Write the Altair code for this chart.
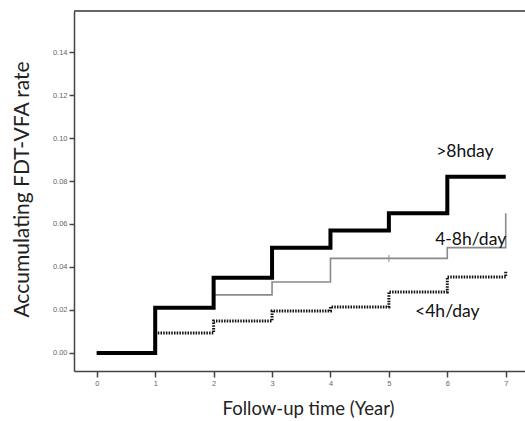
import altair as alt
import pandas as pd

years = [0, 1, 2, 3, 4, 5, 6, 7]
over8 = [0.0, 0.021, 0.035, 0.049, 0.057, 0.065, 0.082, 0.082]
mid48 = [0.0, 0.021, 0.027, 0.033, 0.044, 0.044, 0.049, 0.065]
under4 = [0.0, 0.0093, 0.0149, 0.0195, 0.0214, 0.0284, 0.0353, 0.038]

censor_x = [5]
censor_y = [0.044]

label_text = [">8hday", "4-8h/day", "<4h/day"]
label_x = [6.3, 6.4, 6.0]
label_y = [0.0935, 0.0526, 0.019]

y_ticks = [0.0, 0.02, 0.04, 0.06, 0.08, 0.10, 0.12, 0.14]

df = pd.DataFrame({
    "year": years * 3,
    "rate": over8 + mid48 + under4,
    "group": [">8h"] * 8 + ["4-8h"] * 8 + ["<4h"] * 8,
})
labels = pd.DataFrame({"t": label_text, "x": label_x, "y": label_y})
cens = pd.DataFrame({"year": censor_x, "rate": censor_y})

W, H = 451, 360
xs = alt.Scale(domain=[-0.39, 7.33], nice=False, zero=False)
ys = alt.Scale(domain=[-0.0084, 0.1591], nice=False, zero=False)

xenc = alt.X("year:Q", scale=xs, axis=alt.Axis(
    values=years, format="d", title="Follow-up time (Year)", grid=False,
    domainColor="#444", domainWidth=1.5, tickColor="#444", tickWidth=1.5, tickSize=6,
    labelFontSize=7.5, labelColor="#666", labelFont="Liberation Sans", labelPadding=2,
    titleFont="Lato", titleFontSize=18.5, titleFontWeight="normal", titleColor="#222",
    titlePadding=13, titleX=234))
yenc = alt.Y("rate:Q", scale=ys, axis=alt.Axis(
    values=y_ticks, format=".2f", title="Accumulating FDT-VFA rate", grid=False,
    domainColor="#444", domainWidth=1.5, tickColor="#444", tickWidth=1.5, tickSize=5,
    labelFontSize=7.5, labelColor="#666", labelFont="Liberation Sans", labelPadding=2,
    titleFont="Lato", titleFontSize=21, titleFontWeight="normal", titleColor="#222",
    titlePadding=20, titleY=178))

base = alt.Chart(df)

gray = base.transform_filter(alt.datum.group == "4-8h").mark_line(
    interpolate="step-after", color="#8a8a8a", strokeWidth=1.6
).encode(x=xenc, y=yenc)

cens_mark = alt.Chart(cens).mark_tick(
    orient="vertical", color="#8a8a8a", size=7, thickness=1.4
).encode(x=alt.X("year:Q", scale=xs), y=alt.Y("rate:Q", scale=ys))

dotted = base.transform_filter(alt.datum.group == "<4h").mark_line(
    interpolate="step-after", color="#111", strokeWidth=3, strokeDash=[1.5, 1.2]
).encode(x=xenc, y=yenc)

thick = base.transform_filter(alt.datum.group == ">8h").mark_line(
    interpolate="step-after", color="#000", strokeWidth=4
).encode(x=xenc, y=yenc)

txt = alt.Chart(labels).mark_text(
    font="Lato", fontSize=17.5, color="#111"
).encode(x=alt.X("x:Q", scale=xs), y=alt.Y("y:Q", scale=ys), text="t:N")

top = alt.Chart(labels).mark_rule(color="#666", strokeWidth=2).encode(
    x=alt.value(0), x2=alt.value(W + 10), y=alt.value(0)
)

chart = alt.layer(top, gray, cens_mark, dotted, thick, txt).properties(
    width=W, height=H,
    autosize=alt.AutoSizeParams(type="none"),
    padding={"left": 74, "top": 11, "right": 0, "bottom": 50},
).configure_view(stroke=None).configure(background="white")

chart.save("out.html", embed_options={"renderer": "svg", "actions": False})
